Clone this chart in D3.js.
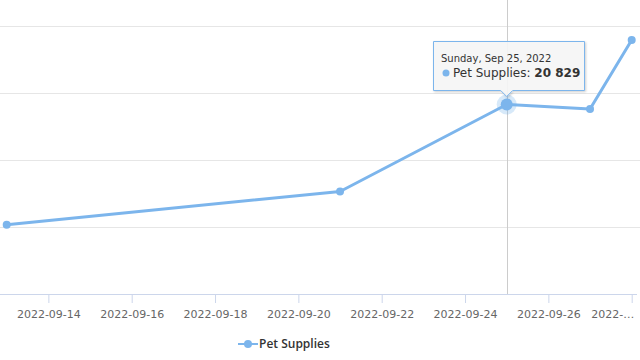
<!DOCTYPE html>
<html><head><meta charset="utf-8">
<script src="https://cdn.jsdelivr.net/npm/d3@7"></script>
<style>body{margin:0;background:#fff}svg{display:block;font-family:"DejaVu Sans",sans-serif}</style>
</head><body><svg id="c" width="640" height="360"></svg>
<script>
const seriesName = "Pet Supplies";
const dates = ["2022-09-13","2022-09-21","2022-09-25","2022-09-27","2022-09-28"];
const values = [19035, 19530, 20829, 20760, 21790];
const tickDates = ["2022-09-14","2022-09-16","2022-09-18","2022-09-20","2022-09-22","2022-09-24","2022-09-26","2022-09-28"];
const tickLabels = ["2022-09-14","2022-09-16","2022-09-18","2022-09-20","2022-09-22","2022-09-24","2022-09-26","2022-…"];
const yTicks = [18000,19000,20000,21000,22000];
const hoverIndex = 2;

const parse = d3.utcParse("%Y-%m-%d");
const svg = d3.select("#c");
const color = "#7cb5ec";
const x = d3.scaleUtc().domain([parse("2022-09-13"), parse("2022-09-28")]).range([6.7, 631.7]);
const y = d3.scaleLinear().domain([18000, 22000]).range([294, 26]);
const plotL = 0, plotR = 640;

// gridlines
svg.append("g").selectAll("line").data(yTicks.slice(1)).join("line")
  .attr("x1", plotL).attr("x2", plotR).attr("y1", d => y(d)).attr("y2", d => y(d))
  .attr("stroke", "#e6e6e6").attr("stroke-width", 1).attr("shape-rendering","crispEdges");

// x axis
const xAxis = d3.axisBottom(x).tickValues(tickDates.map(parse)).tickSize(9)
  .tickFormat((d, i) => tickLabels[i]);
const gx = svg.append("g").attr("transform", `translate(0,${y(18000)})`).call(xAxis);
gx.select(".domain").attr("d", `M${plotL},0.5H637`).attr("stroke", "#ccd6eb");
gx.selectAll(".tick line").attr("stroke", "#ccd6eb");
gx.selectAll(".tick text").attr("fill", "#666").attr("font-size", 11).attr("dy", "1.1em")
  .attr("font-family", "DejaVu Sans");
gx.selectAll(".tick text").filter((d, i) => i === tickLabels.length - 1)
  .attr("text-anchor", "end").attr("dx", 2);

const pts = dates.map((d, i) => ({date: parse(d), value: values[i]}));

// crosshair
const hp = pts[hoverIndex];
svg.append("line").attr("x1", Math.round(x(hp.date)) + 0.5).attr("x2", Math.round(x(hp.date)) + 0.5)
  .attr("y1", 0).attr("y2", y(18000)).attr("stroke", "#cccccc").attr("stroke-width", 1);

// line
svg.append("path").datum(pts)
  .attr("d", d3.line().x(d => x(d.date)).y(d => y(d.value)))
  .attr("fill", "none").attr("stroke", color).attr("stroke-width", 3)
  .attr("stroke-linejoin", "round");

// markers
svg.append("g").selectAll("circle").data(pts).join("circle")
  .attr("cx", d => x(d.date)).attr("cy", d => y(d.value)).attr("r", 4).attr("fill", color);

// hover halo
svg.append("circle").attr("cx", x(hp.date)).attr("cy", y(hp.value)).attr("r", 10)
  .attr("fill", color).attr("opacity", 0.3);
svg.append("circle").attr("cx", x(hp.date)).attr("cy", y(hp.value)).attr("r", 6)
  .attr("fill", color);

// tooltip
const tx = x(hp.date), ty = y(hp.value);
const bx = 433.5, bw = 151, by = 41.5, bh = 49;
const tipPath = `M${bx},${by}H${bx+bw}V${by+bh}H${tx+6}L${tx},${by+bh+6}L${tx-6},${by+bh}H${bx}Z`;
const defs = svg.append("defs");
const f = defs.append("filter").attr("id","sh").attr("x","-20%").attr("y","-20%").attr("width","140%").attr("height","150%");
f.append("feDropShadow").attr("dx",1).attr("dy",1).attr("stdDeviation",1.2).attr("flood-color","#000").attr("flood-opacity",0.2);
svg.append("path").attr("d", tipPath).attr("fill", "rgba(247,247,247,0.9)")
  .attr("stroke", color).attr("stroke-width", 1).attr("filter","url(#sh)");
const fmtDate = d3.utcFormat("%A, %b %-d, %Y");
svg.append("text").attr("x", 441).attr("y", 62).attr("font-size", 10).attr("fill", "#333")
  .text(fmtDate(hp.date));
svg.append("circle").attr("cx", 446).attr("cy", 73).attr("r", 3.5).attr("fill", color);
const t2 = svg.append("text").attr("x", 453).attr("y", 77).attr("font-size", 12).attr("fill", "#333");
t2.append("tspan").text(seriesName + ": ");
t2.append("tspan").attr("font-weight", "bold").text(d3.format(",")(hp.value).replace(/,/g, " "));

// legend
const lg = svg.append("g");
lg.append("line").attr("x1", 238).attr("x2", 258).attr("y1", 344).attr("y2", 344)
  .attr("stroke", color).attr("stroke-width", 2);
lg.append("circle").attr("cx", 248).attr("cy", 344).attr("r", 4).attr("fill", color);
lg.append("text").attr("x", 259).attr("y", 348).attr("font-size", 12).attr("font-weight", 600)
  .attr("font-family", "Open Sans").attr("fill", "#333").text(seriesName);
</script></body></html>
